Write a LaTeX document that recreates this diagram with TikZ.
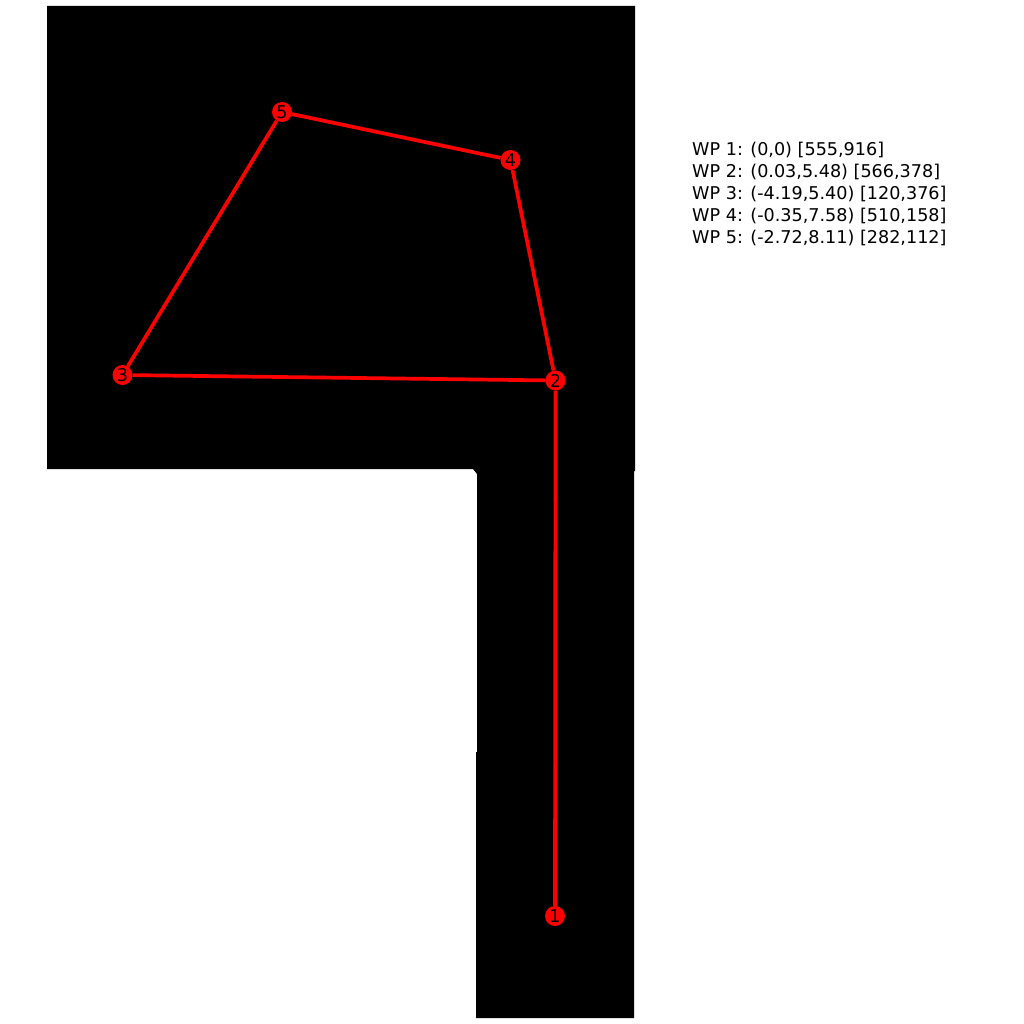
\documentclass[tikz,border=0pt]{standalone}
\usepackage{fontspec}
\setmainfont{DejaVu Sans}
\usetikzlibrary{positioning}

\begin{document}
\begin{tikzpicture}[
    x=1pt,
    y=-1pt,
    waypoint/.style={
        circle,
        fill=red,
        inner sep=0pt,
        minimum size=20pt,
        font=\fontsize{17.6}{17.6}\selectfont
    },
    route/.style={
        draw=red,
        line width=3.7pt
    }
]

\useasboundingbox (0,0) rectangle (1024,1024);

\fill[black] (47,6) -- (635,6) -- (635,471) -- (634,471) -- (634,1018) -- (476,1018) -- (476,752) -- (477,752) -- (477,474) -- (473,469) -- (47,469) -- cycle;

\node[waypoint] (wp1) at (555,916) {1};
\node[waypoint] (wp2) at (555.5,380.5) {2};
\node[waypoint] (wp3) at (122.5,375) {3};
\node[waypoint] (wp4) at (510.5,160) {4};
\node[waypoint] (wp5) at (282,112) {5};

\draw[route] (wp1) -- (wp2);
\draw[route] (wp2) -- (wp3);
\draw[route] (wp3) -- (wp5);
\draw[route] (wp5) -- (wp4);
\draw[route] (wp4) -- (wp2);

\node[align=left, anchor=north west, inner sep=0pt, font=\fontsize{17.6}{22}\selectfont] (wplist) at (692,142) {WP 1: (0,0) [555,916]\\WP 2: (0.03,5.48) [566,378]\\WP 3: (-4.19,5.40) [120,376]\\WP 4: (-0.35,7.58) [510,158]\\WP 5: (-2.72,8.11) [282,112]};

\end{tikzpicture}
\end{document}
